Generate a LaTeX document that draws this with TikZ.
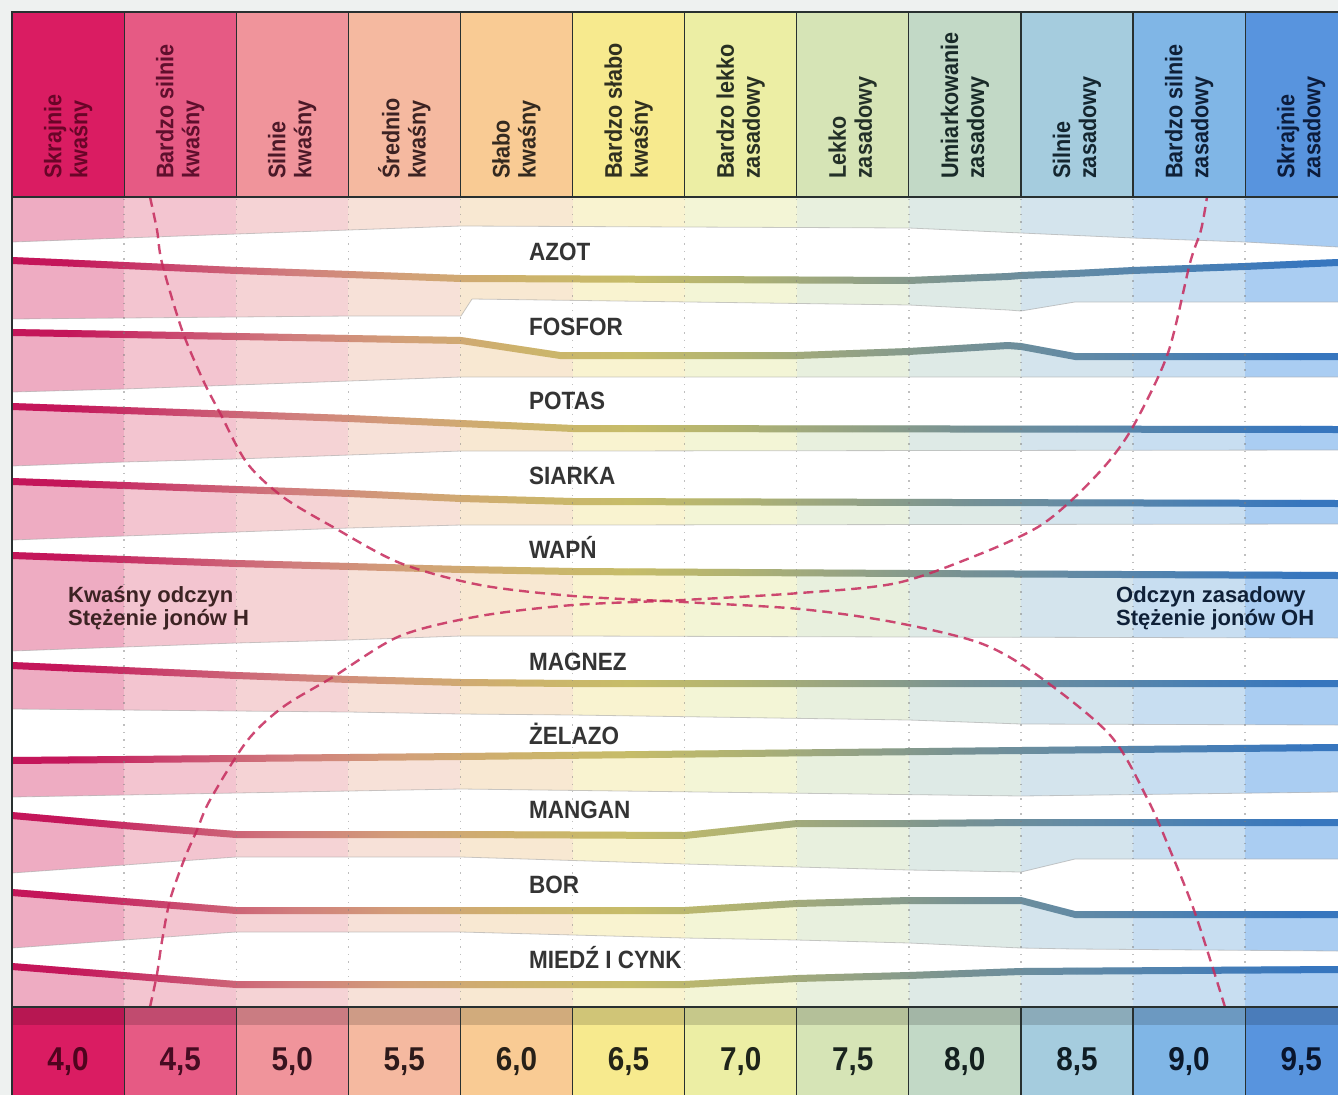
\documentclass[tikz,border=0pt]{standalone}
\usepackage{fontspec}
\setmainfont{Liberation Sans}
\newfontfamily\condfont{Liberation Sans}[FakeStretch=0.9]

% column colours: header, band tint, line, text
\definecolor{hd1}{RGB}{218,28,98}   \definecolor{hd2}{RGB}{230,90,132}
\definecolor{hd3}{RGB}{240,148,155} \definecolor{hd4}{RGB}{245,185,160}
\definecolor{hd5}{RGB}{249,203,148} \definecolor{hd6}{RGB}{247,234,142}
\definecolor{hd7}{RGB}{236,238,164} \definecolor{hd8}{RGB}{214,228,182}
\definecolor{hd9}{RGB}{194,217,198} \definecolor{hd10}{RGB}{165,204,222}
\definecolor{hd11}{RGB}{128,182,230} \definecolor{hd12}{RGB}{88,148,222}

\definecolor{tn1}{RGB}{238,172,194} \definecolor{tn2}{RGB}{243,197,208}
\definecolor{tn3}{RGB}{245,211,213} \definecolor{tn4}{RGB}{247,225,216}
\definecolor{tn5}{RGB}{248,232,210} \definecolor{tn6}{RGB}{249,243,208}
\definecolor{tn7}{RGB}{243,245,214} \definecolor{tn8}{RGB}{232,240,222}
\definecolor{tn9}{RGB}{222,234,230} \definecolor{tn10}{RGB}{212,228,237}
\definecolor{tn11}{RGB}{200,222,241} \definecolor{tn12}{RGB}{170,205,242}

\definecolor{ln1}{RGB}{196,22,90}   \definecolor{ln2}{RGB}{202,75,112}
\definecolor{ln3}{RGB}{208,125,125} \definecolor{ln4}{RGB}{210,160,120}
\definecolor{ln5}{RGB}{205,178,108} \definecolor{ln6}{RGB}{198,188,105}
\definecolor{ln7}{RGB}{175,178,115} \definecolor{ln8}{RGB}{148,162,132}
\definecolor{ln9}{RGB}{118,145,148} \definecolor{ln10}{RGB}{98,138,165}
\definecolor{ln11}{RGB}{75,128,178} \definecolor{ln12}{RGB}{55,118,190}

\definecolor{tx1}{RGB}{105,5,40}   \definecolor{tx2}{RGB}{95,15,45}
\definecolor{tx3}{RGB}{75,25,40}   \definecolor{tx4}{RGB}{60,35,35}
\definecolor{tx5}{RGB}{52,42,32}   \definecolor{tx6}{RGB}{48,48,32}
\definecolor{tx7}{RGB}{40,48,35}   \definecolor{tx8}{RGB}{35,48,40}
\definecolor{tx9}{RGB}{25,42,40}   \definecolor{tx10}{RGB}{20,38,48}
\definecolor{tx11}{RGB}{15,32,55}  \definecolor{tx12}{RGB}{12,28,60}

\definecolor{pagebg}{RGB}{238,241,240}
\definecolor{framec}{RGB}{40,48,48}
\definecolor{lblgray}{RGB}{52,52,52}
\definecolor{dashred}{RGB}{198,42,92}

% bands: x / top of line / bottom of band
\newcommand\dtop{12/197/242, 461/197/226, 909/197/228, 1133/197/238, 1245/197/242, 1338/197/247}
\newcommand\dazot{12/257/319, 124/262/318, 236/267/317, 349/271/316, 461/275/316, 472/275/299, 909/277/305, 1008/273/310, 1021/272/311, 1075/270/302, 1133/267/302, 1245/263/302, 1338/259/302}
\newcommand\dfosfor{12/329/392, 124/331/389, 236/333/385, 349/335/381, 461/337/377, 560/352/377, 797/352/377, 909/348/377, 1008/342/377, 1021/343/377, 1075/353/377, 1338/353/377}
\newcommand\dpotas{12/403/466, 124/407/462, 236/411/459, 349/415/455, 461/420/451, 573/425/451, 1338/426/450}
\newcommand\dsiarka{12/478/540, 124/482/536, 236/486/532, 349/490/528, 461/495/525, 573/498/525, 1338/500/524}
\newcommand\dwapn{12/552/651, 124/556/647, 236/560/643, 349/563/640, 461/566/636, 573/568/636, 909/570/637, 1338/572/638}
\newcommand\dmagnez{12/662/709, 124/667/710, 236/672/711, 349/676/712, 461/679/714, 573/680/715, 909/680/720, 1021/680/724, 1338/680/725}
\newcommand\dzelazo{12/757/797, 461/753/789, 1021/747/796, 1338/744/792}
\newcommand\dmangan{12/812/873, 124/822/865, 236/831/857, 461/831/857, 685/832/864, 797/820/867, 909/820/870, 1021/819/872, 1075/819/859, 1338/819/859}
\newcommand\dbor{12/889/948, 124/898/940, 236/907/932, 461/907/932, 685/907/938, 797/900/940, 909/897/943, 1021/897/948, 1075/911/949, 1338/911/951}
\newcommand\dmiedz{12/963/1007, 124/972/1007, 236/981/1007, 685/981/1007, 797/975/1007, 909/972/1007, 1021/968/1007, 1338/966/1007}

\newcommand\bandquads[1]{\foreach \xx/\yt/\yb [remember=\xx as \lastx (initially 12), remember=\yt as \lastt (initially 0), remember=\yb as \lastb (initially 0)] in #1 {(\lastx,\lastt) -- (\xx,\yt) -- (\xx,\yb) -- (\lastx,\lastb) -- cycle}}
\newcommand\linequads[1]{\foreach \xx/\yt/\yb [remember=\xx as \lastx (initially 12), remember=\yt as \lastt (initially 0)] in #1 {(\lastx,\lastt) -- (\xx,\yt) -- (\xx,\yt+7) -- (\lastx,\lastt+7) -- cycle}}
\newcommand\edgesegs[1]{\foreach \xx/\yt/\yb [remember=\xx as \lastx (initially 12), remember=\yb as \lastb (initially 1007)] in #1 {(\lastx,\lastb) -- (\xx,\yb)}}

\begin{document}
\begin{tikzpicture}[x=1pt,y=-1pt,
  hdr/.style={rotate=90,anchor=west,align=left,inner sep=0pt,font=\condfont\bfseries\fontsize{24}{26}\selectfont},
  num/.style={anchor=base,inner sep=0pt,font=\condfont\bfseries\fontsize{33}{33}\selectfont},
  lbl/.style={anchor=base west,inner sep=0pt,text=lblgray,font=\condfont\bfseries\fontsize{25}{25}\selectfont},
  side/.style={anchor=west,align=left,inner sep=0pt,font=\bfseries\fontsize{22}{23}\selectfont},
  curve/.style={draw=dashred,opacity=.85,line width=2.4pt,dash pattern=on 10pt off 6pt},
  gridline/.style={gray,line width=1.4pt,dash pattern=on 1.4pt off 6pt,opacity=.5},
  sep/.style={framec,line width=1.2pt},
  frame/.style={framec,line width=2.4pt}]

\useasboundingbox (0,0) rectangle (1338,1095);
\fill[pagebg] (0,0) rectangle (1338,1095);
\fill[white] (12,197) rectangle (1338,1007);

% tinted bands
\begin{scope}
\clip \bandquads{\dtop} \bandquads{\dazot} \bandquads{\dfosfor} \bandquads{\dpotas}
  \bandquads{\dsiarka} \bandquads{\dwapn} \bandquads{\dmagnez} \bandquads{\dzelazo}
  \bandquads{\dmangan} \bandquads{\dbor} \bandquads{\dmiedz};
\foreach \i in {1,...,12}
  \fill[tn\i] ({12+112.1*(\i-1)},190) rectangle ({12+112.1*\i},1010);
\end{scope}

\draw[gray!70,line width=.8pt,opacity=.6] \edgesegs{\dtop} \edgesegs{\dazot} \edgesegs{\dfosfor}
  \edgesegs{\dpotas} \edgesegs{\dsiarka} \edgesegs{\dwapn} \edgesegs{\dmagnez}
  \edgesegs{\dzelazo} \edgesegs{\dmangan} \edgesegs{\dbor};

% nutrient lines
\begin{scope}
\clip \linequads{\dazot} \linequads{\dfosfor} \linequads{\dpotas} \linequads{\dsiarka}
  \linequads{\dwapn} \linequads{\dmagnez} \linequads{\dzelazo} \linequads{\dmangan}
  \linequads{\dbor} \linequads{\dmiedz};
\fill[ln1] (12,190) rectangle (69,1010);
\foreach \i [evaluate=\i as \j using int(\i+1)] in {1,...,11}
  \shade[left color=ln\i,right color=ln\j] ({12+112.1*\i-56.05},190) rectangle ({12+112.1*\i+56.1},1010);
\fill[ln12] (1300,190) rectangle (1338,1010);
\end{scope}

\foreach \i in {1,...,11}
  \draw[gridline] ({12+112.1*\i},199) -- ({12+112.1*\i},1005);

% ion concentration curves
\draw[curve] plot[smooth,tension=.5] coordinates {(150,197) (157,230) (162,263) (182,330) (203,380) (220,413) (247,463) (283,497) (333,527) (400,563) (480,585) (573,596) (683,602) (800,609) (893,622) (980,643) (1037,675) (1110,735) (1148,800) (1170,850) (1195,913) (1225,1007)};
\draw[curve] plot[smooth,tension=.5] coordinates {(150,1007) (157,974) (162,941) (170,900) (184,860) (197,830) (210,800) (247,741) (283,707) (333,677) (400,636) (480,616) (573,605) (683,600) (800,593) (897,583) (980,554) (1038,527) (1075,497) (1110,460) (1135,423) (1168,353) (1190,263) (1201,230) (1207,197)};

\node[lbl] (azot) at (529,260) {AZOT};
\node[lbl] (fosfor) at (529,335) {FOSFOR};
\node[lbl] (potas) at (529,409) {POTAS};
\node[lbl] (siarka) at (529,484) {SIARKA};
\node[lbl] (wapn) at (529,558) {WAPŃ};
\node[lbl] (magnez) at (529,670) {MAGNEZ};
\node[lbl] (zelazo) at (529,744) {ŻELAZO};
\node[lbl] (mangan) at (529,818) {MANGAN};
\node[lbl] (bor) at (529,893) {BOR};
\node[lbl] (miedz) at (529,968) {MIEDŹ I CYNK};

\node[side,text=tx4] (acid) at (68,608) {Kwaśny odczyn\\Stężenie jonów H};
\node[side,text=tx11] (base) at (1116,608) {Odczyn zasadowy\\Stężenie jonów OH};

% header
\foreach \i in {1,...,12}
  \fill[hd\i] ({12+112.1*(\i-1)},12) rectangle ({12+112.1*\i},197);
\foreach \i/\ta/\tb in {1/Skrajnie/kwaśny, 2/Bardzo silnie/kwaśny, 3/Silnie/kwaśny,
    4/Średnio/kwaśny, 5/Słabo/kwaśny, 6/Bardzo słabo/kwaśny, 7/Bardzo lekko/zasadowy,
    8/Lekko/zasadowy, 9/Umiarkowanie/zasadowy, 10/Silnie/zasadowy,
    11/Bardzo silnie/zasadowy, 12/Skrajnie/zasadowy}
  \node[hdr,text=tx\i] (h\i) at ({12+112.1*\i-56.05},179) {\ta\\\tb};

% pH scale
\foreach \i in {1,...,12} {
  \fill[hd\i] ({12+112.1*(\i-1)},1007) rectangle ({12+112.1*\i},1095);
  \fill[hd\i!84!black] ({12+112.1*(\i-1)},1007) rectangle ({12+112.1*\i},1025);
}
\foreach \i/\v in {1/{4,0}, 2/{4,5}, 3/{5,0}, 4/{5,5}, 5/{6,0}, 6/{6,5},
    7/{7,0}, 8/{7,5}, 9/{8,0}, 10/{8,5}, 11/{9,0}, 12/{9,5}}
  \node[num,text=tx\i!75!black] (n\i) at ({12+112.1*\i-56.05},1070) {\v};

\foreach \i in {1,...,11} {
  \draw[sep] ({12+112.1*\i},12) -- ({12+112.1*\i},197);
  \draw[sep] ({12+112.1*\i},1007) -- ({12+112.1*\i},1095);
}
\draw[frame] (12,1095) -- (12,12) -- (1338,12);
\draw[frame] (12,197) -- (1338,197);
\draw[frame] (12,1007) -- (1338,1007);

\end{tikzpicture}
\end{document}
